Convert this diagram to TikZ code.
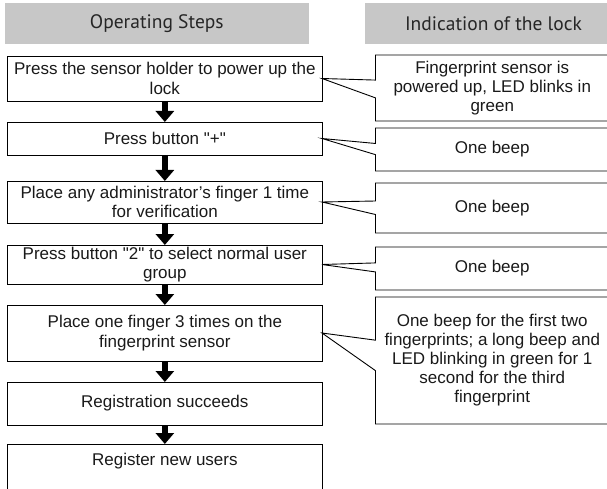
\documentclass[tikz,border=0pt]{standalone}
\usepackage{fontspec}
\setmainfont{Liberation Sans}[Ligatures=TeXOff]
\newfontfamily\hdrfont{PT Sans}
\usetikzlibrary{arrows.meta,calc}
\newcommand\mkcallout[4]{%
  \draw[callout] ($(#1.north west)!#4!(#1.south west)$) -- (#1.south west) -- (#1.south east)
    -- (#1.north east) -- (#1.north west) -- ($(#1.north west)!#3!(#1.south west)$) -- (#2.east) -- cycle;}
\begin{document}
\begin{tikzpicture}[x=1pt,y=-1pt,
  lbox/.style={draw=black, line width=0.9pt, minimum width=314.3pt, inner sep=0pt, outer sep=0pt,
    align=center, text=black!90, font=\fontsize{17}{19.5}\selectfont},
  rtext/.style={minimum width=233.5pt, inner sep=0pt, outer sep=0pt, align=center, text=black!90,
    font=\fontsize{17}{19}\selectfont},
  hdr/.style={fill=black!22, inner sep=0pt, outer sep=0pt, minimum height=41pt,
    font=\hdrfont\fontsize{19.5}{22}\selectfont, text=black!85},
  flow/.style={line width=5.5pt, -{Triangle[length=11pt,width=18pt]}},
  callout/.style={draw=black, line width=0.9pt, line join=miter},
  boxline/.style={draw=black, line width=0.9pt}]
\useasboundingbox (0,0) rectangle (607,489);
\clip (0,0) rectangle (607,489);
% headers
\node[hdr, minimum width=304.4pt] (h1) at (156.8,23.8) {Operating Steps};
\node[hdr, minimum width=257pt] (h2) at (493.5,23.8) {Indication of the lock};
% left steps
\node[lbox, minimum height=45pt] (b1) at (164.85,78.5) {Press the sensor holder to power up the\\lock};
\node[lbox, minimum height=33pt] (b2) at (164.85,138.5) {Press button "+"};
\node[lbox, minimum height=42pt] (b3) at (164.85,202) {Place any administrator’s finger 1 time\\for verification};
\node[lbox, minimum height=39pt] (b4) at (164.85,264.5) {Press button "2" to select normal user\\group};
\node[lbox, minimum height=56pt] (b5) at (164.85,333) {Place one finger 3 times on the\\fingerprint sensor};
\node[lbox, minimum height=43pt] (b6) at (164.85,403.5) {Registration succeeds};
\node[lbox, draw=none, minimum height=34pt] (b7) at (164.85,461) {Register new users};
\draw[boxline] ([yshift=-60pt]b7.north west) -- (b7.north west) -- (b7.north east) -- ([yshift=-60pt]b7.north east);
% arrows
\draw[flow] (b1.south) -- (b2.north);
\draw[flow] (b2.south) -- (b3.north);
\draw[flow] (b3.south) -- (b4.north);
\draw[flow] (b4.south) -- (b5.north);
\draw[flow] (b5.south) -- (b6.north);
\draw[flow] (b6.south) -- (b7.north);
% right indications
\node[rtext, minimum height=66pt] (r1) at (492.25,88) {Fingerprint sensor is\\powered up, LED blinks in\\green};
\node[rtext, minimum height=43pt] (r2) at (492.25,149.5) {One beep};
\node[rtext, minimum height=50pt] (r3) at (492.25,208) {One beep};
\node[rtext, minimum height=43pt] (r4) at (492.25,268.5) {One beep};
\node[rtext, minimum height=127pt] (r5) at (492.25,360.5) {One beep for the first two\\fingerprints; a long beep and\\LED blinking in green for 1\\second for the third\\fingerprint};
\mkcallout{r1}{b1}{0.38}{0.65}
\mkcallout{r2}{b2}{0.36}{0.62}
\mkcallout{r3}{b3}{0.36}{0.63}
\mkcallout{r4}{b4}{0.37}{0.58}
\mkcallout{r5}{b5}{0.34}{0.58}
\end{tikzpicture}
\end{document}
